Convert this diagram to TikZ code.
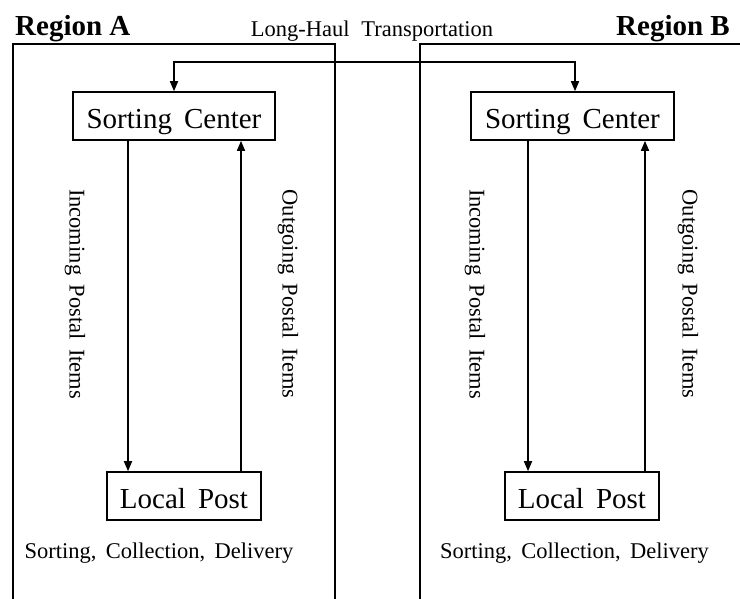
\documentclass[tikz,border=0pt]{standalone}
\usepackage{fontspec}
\setmainfont{Liberation Serif}
\usetikzlibrary{arrows.meta}
\tikzset{
  box/.style={draw, line width=1.6pt, inner sep=0pt, text height=24pt, text depth=0pt,
    font=\fontsize{29}{32}\selectfont},
  flow/.style={line width=1.6pt, -{Triangle[length=10pt,width=8pt]}},
  link/.style={line width=1.6pt, {Triangle[length=10pt,width=8pt]}-{Triangle[length=10pt,width=8pt]}},
  frame/.style={line width=1.6pt},
  side/.style={inner sep=0pt, rotate=-90, font=\fontsize{22.5}{24}\selectfont},
  task/.style={inner sep=0pt, anchor=base, font=\fontsize{22.5}{24}\selectfont},
  region/.style={inner sep=0pt, font=\bfseries\fontsize{29}{32}\selectfont},
}
\begin{document}
\begin{tikzpicture}[x=1pt, y=-1pt]
\useasboundingbox (0,0) rectangle (740,598);
\begin{scope}
\clip (0,0) rectangle (740,598);
% region frames, open at the bottom (and at the right for B)
\draw[frame] (13,610) -- (13,44) -- (335,44) -- (335,610);
\draw[frame] (420,610) -- (420,44) -- (760,44);
\end{scope}

% headings
\node[region, anchor=base west] (ra) at (15,35) {Region A};
\node[region, anchor=base east] (rb) at (730,35) {Region B};
\node[inner sep=0pt, anchor=base, font=\fontsize{22.5}{24}\selectfont] (lh) at (372,36) {Long-Haul\; Transportation};

% region A
\node[box, minimum width=202pt, minimum height=48pt] (scA) at (174,116) {Sorting\, Center};
\node[box, minimum width=154pt, minimum height=48pt] (lpA) at (184,496) {Local\, Post};
\node[task] (tA) at (159,558) {Sorting,\, Collection,\, Delivery};
\node[side] (inA) at (75,294) {Incoming\, Postal\, Items};
\node[side] (outA) at (288,294) {Outgoing\, Postal\, Items};
\coordinate (dA) at (128,0);
\coordinate (uA) at (241,0);
\draw[flow] (scA.south -| dA) -- (lpA.north -| dA);
\draw[flow] (lpA.north -| uA) -- (scA.south -| uA);

% region B
\node[box, minimum width=203pt, minimum height=48pt] (scB) at (572.5,116) {Sorting\, Center};
\node[box, minimum width=154pt, minimum height=48pt] (lpB) at (582,496) {Local\, Post};
\node[task] (tB) at (574.5,558) {Sorting,\, Collection,\, Delivery};
\node[side] (inB) at (475,294) {Incoming\, Postal\, Items};
\node[side] (outB) at (688,294) {Outgoing\, Postal\, Items};
\coordinate (dB) at (528,0);
\coordinate (uB) at (645,0);
\draw[flow] (scB.south -| dB) -- (lpB.north -| dB);
\draw[flow] (lpB.north -| uB) -- (scB.south -| uB);

% long-haul link between the two sorting centers
\coordinate (lhA) at (174,62);
\coordinate (lhB) at (575,62);
\draw[link] (scA.north -| lhA) -- (lhA) -- (lhB) -- (scB.north -| lhB);
\end{tikzpicture}
\end{document}
